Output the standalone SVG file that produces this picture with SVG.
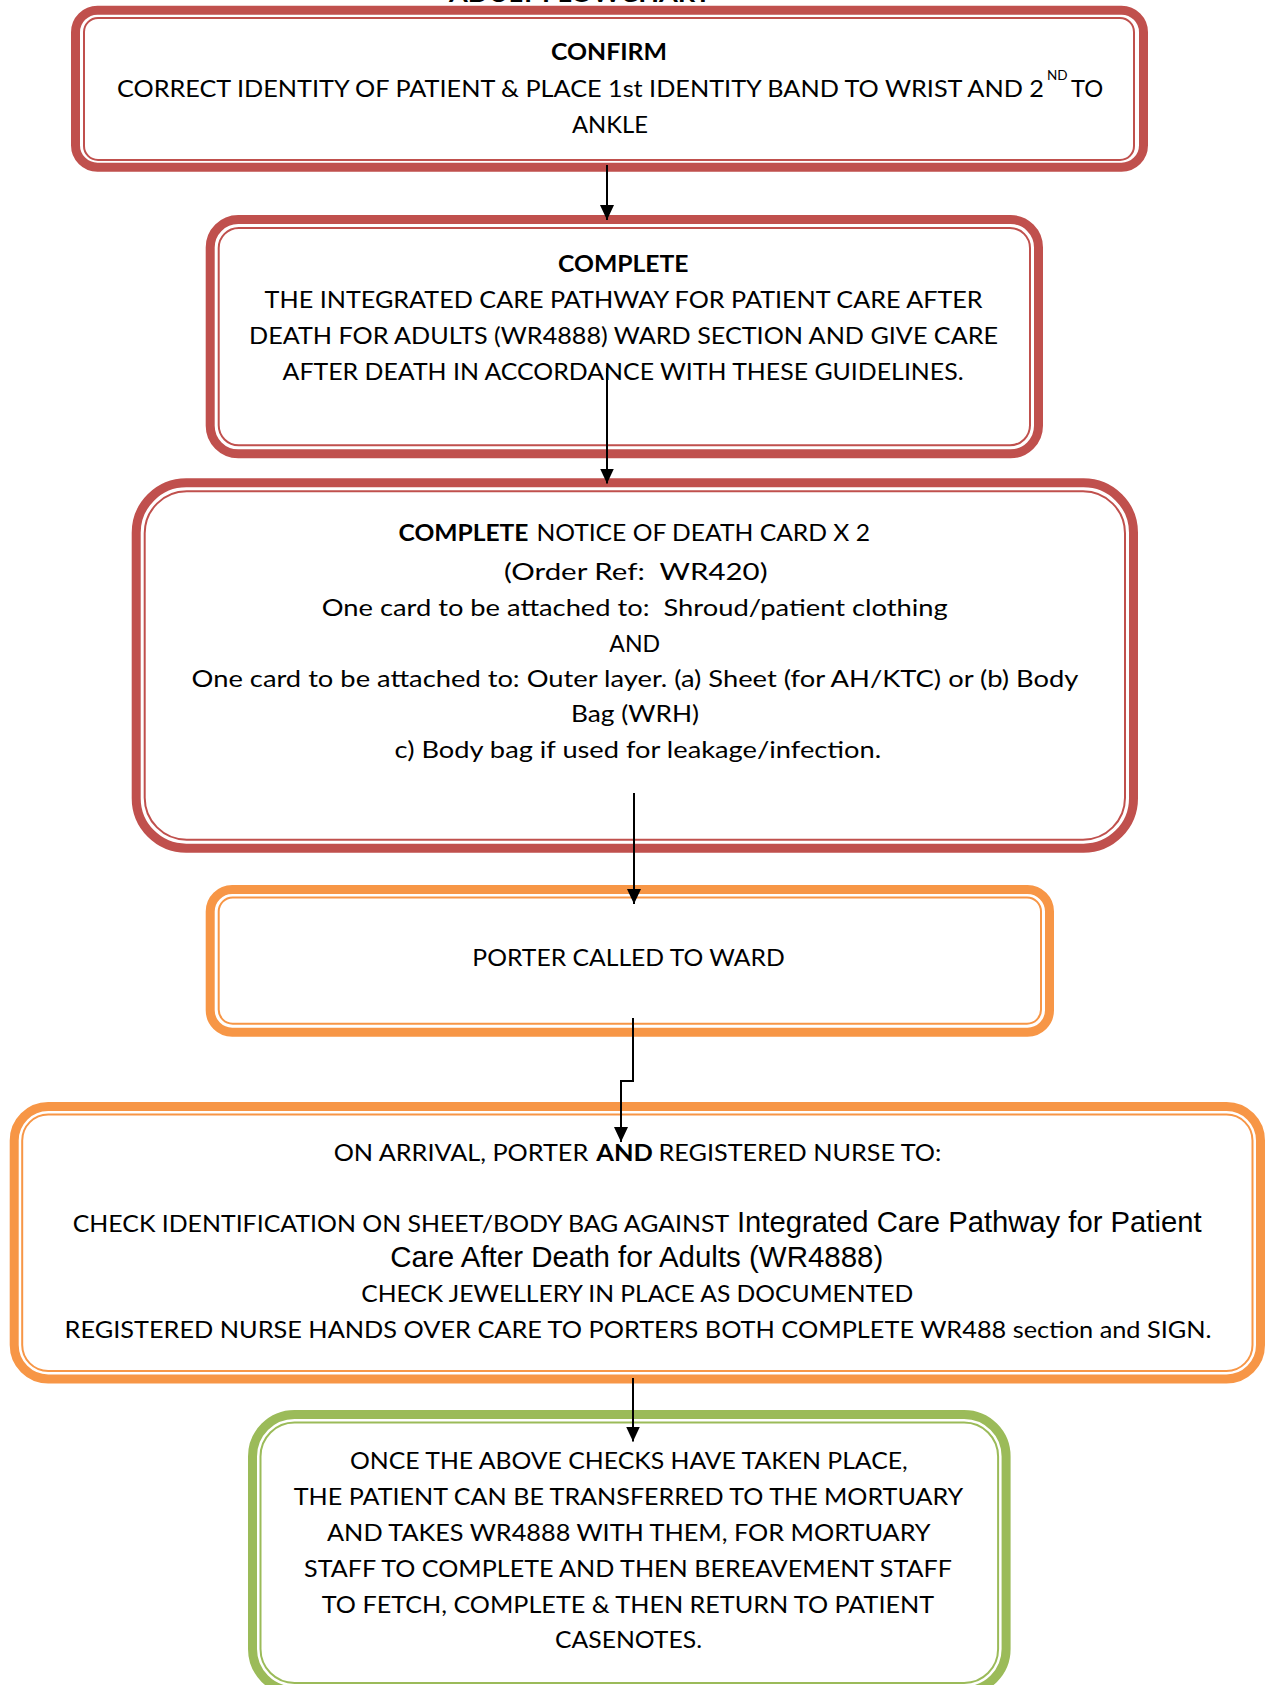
<svg xmlns="http://www.w3.org/2000/svg" width="1267" height="1685" viewBox="0 0 1267 1685">
<style>
.t{font-family:Lato,"Open Sans","Liberation Sans",sans-serif;font-size:23.7px;fill:#000}
.b{font-weight:bold}
.ar{font-family:"Liberation Sans",Arial,sans-serif;font-size:29px;fill:#000}
.red .o{fill:#fff;stroke:#C0504D;stroke-width:9}
.red .i{fill:none;stroke:#C0504D;stroke-width:2}
.org .o{fill:#fff;stroke:#F79646;stroke-width:9}
.org .i{fill:none;stroke:#F79646;stroke-width:2}
.grn .o{fill:#fff;stroke:#9BBB59;stroke-width:9}
.grn .i{fill:none;stroke:#9BBB59;stroke-width:2}
.c{fill:none;stroke:#000;stroke-width:2}
</style>
<defs>
<marker id="ah" markerUnits="userSpaceOnUse" markerWidth="16" markerHeight="16" refX="15" refY="7" orient="auto">
<path d="M0,0 L15,7 L0,14 z" fill="#000"/>
</marker>
</defs>
<rect width="1267" height="1685" fill="#fff"/>
<text class="t b" x="449" y="2" font-size="27" textLength="262" lengthAdjust="spacingAndGlyphs">ADULT FLOWCHART</text>

<g id="n1" class="red">
<rect class="o" x="75.5" y="10.2" width="1068" height="157" rx="22"/>
<rect class="i" x="84" y="18" width="1050" height="142" rx="14"/>
<text class="t b" x="551" y="60" textLength="116" lengthAdjust="spacingAndGlyphs">CONFIRM</text>
<text class="t" y="96.7"><tspan x="117" textLength="927" lengthAdjust="spacingAndGlyphs">CORRECT IDENTITY OF PATIENT &amp; PLACE 1st IDENTITY BAND TO WRIST AND 2</tspan><tspan x="1047" y="80" font-size="13.5">ND</tspan><tspan x="1071" y="96.7">TO</tspan></text>
<text class="t" x="572" y="133.3" textLength="76" lengthAdjust="spacingAndGlyphs">ANKLE</text>
</g>

<g id="n2" class="red">
<rect class="o" x="210.2" y="219.5" width="828.3" height="234.3" rx="28"/>
<rect class="i" x="218.7" y="228" width="811.3" height="217.3" rx="20"/>
<text class="t b" x="558" y="271.7" textLength="130.5" lengthAdjust="spacingAndGlyphs">COMPLETE</text>
<text class="t" x="264.6" y="308" textLength="718" lengthAdjust="spacingAndGlyphs">THE INTEGRATED CARE PATHWAY FOR PATIENT CARE AFTER</text>
<text class="t" x="249" y="344" textLength="749" lengthAdjust="spacingAndGlyphs">DEATH FOR ADULTS (WR4888) WARD SECTION AND GIVE CARE</text>
<text class="t" x="282.6" y="380" textLength="681" lengthAdjust="spacingAndGlyphs">AFTER DEATH IN ACCORDANCE WITH THESE GUIDELINES.</text>
</g>

<g id="n3" class="red">
<rect class="o" x="136.2" y="482.8" width="997.3" height="365.4" rx="50"/>
<rect class="i" x="144.7" y="491.3" width="980.3" height="348.4" rx="42"/>
<text class="t b" x="398.5" y="540.7" textLength="130" lengthAdjust="spacingAndGlyphs">COMPLETE</text>
<text class="t" x="536.4" y="540.7" textLength="333.6" lengthAdjust="spacingAndGlyphs">NOTICE OF DEATH CARD X 2</text>
<text class="t" x="504" y="580" font-size="27.9" xml:space="preserve" textLength="263.5" lengthAdjust="spacingAndGlyphs">(Order Ref:  WR420)</text>
<text class="t" x="321.7" y="616" xml:space="preserve" textLength="626" lengthAdjust="spacingAndGlyphs">One card to be attached to:  Shroud/patient clothing</text>
<text class="t" x="609.3" y="651.7" textLength="50.7" lengthAdjust="spacingAndGlyphs">AND</text>
<text class="t" x="191.6" y="687.3" textLength="886.8" lengthAdjust="spacingAndGlyphs">One card to be attached to: Outer layer. (a) Sheet (for AH/KTC) or (b) Body</text>
<text class="t" x="571" y="722.3" textLength="128" lengthAdjust="spacingAndGlyphs">Bag (WRH)</text>
<text class="t" x="394.6" y="758.3" textLength="486.6" lengthAdjust="spacingAndGlyphs">c) Body bag if used for leakage/infection.</text>
</g>

<g id="n4" class="org">
<rect class="o" x="210.2" y="889.5" width="839.3" height="142.7" rx="22"/>
<rect class="i" x="218.7" y="897.5" width="822.3" height="126.2" rx="14"/>
<text class="t" x="472.3" y="965.7" textLength="312.5" lengthAdjust="spacingAndGlyphs">PORTER CALLED TO WARD</text>
</g>

<g id="n5" class="org">
<rect class="o" x="14.2" y="1106.5" width="1246.3" height="272.5" rx="34"/>
<rect class="i" x="22.2" y="1114.5" width="1230.3" height="256.5" rx="26"/>
<text class="t" x="333.7" y="1160.7" textLength="254.5" lengthAdjust="spacingAndGlyphs">ON ARRIVAL, PORTER</text>
<text class="t b" x="596.3" y="1160.7" textLength="56.6" lengthAdjust="spacingAndGlyphs">AND</text>
<text class="t" x="658.5" y="1160.7" textLength="282.8" lengthAdjust="spacingAndGlyphs">REGISTERED NURSE TO:</text>
<text class="t" x="72.7" y="1232.3" textLength="656.5" lengthAdjust="spacingAndGlyphs">CHECK IDENTIFICATION ON SHEET/BODY BAG AGAINST</text>
<text class="ar" x="737" y="1232.3" textLength="464.5" lengthAdjust="spacingAndGlyphs">Integrated Care Pathway for Patient</text>
<text class="ar" x="390.3" y="1267.3" textLength="493" lengthAdjust="spacingAndGlyphs">Care After Death for Adults (WR4888)</text>
<text class="t" x="361.2" y="1301.7" textLength="552" lengthAdjust="spacingAndGlyphs">CHECK JEWELLERY IN PLACE AS DOCUMENTED</text>
<text class="t" x="64.6" y="1338.3" textLength="1147" lengthAdjust="spacingAndGlyphs">REGISTERED NURSE HANDS OVER CARE TO PORTERS BOTH COMPLETE WR488 section and SIGN.</text>
</g>

<g id="n6" class="grn">
<rect class="o" x="252.5" y="1414.5" width="753.6" height="276.5" rx="42"/>
<rect class="i" x="260.5" y="1422.5" width="737.6" height="260.5" rx="34"/>
<text class="t" x="350" y="1469" textLength="557.7" lengthAdjust="spacingAndGlyphs">ONCE THE ABOVE CHECKS HAVE TAKEN PLACE,</text>
<text class="t" x="293.8" y="1505" textLength="669.4" lengthAdjust="spacingAndGlyphs">THE PATIENT CAN BE TRANSFERRED TO THE MORTUARY</text>
<text class="t" x="327" y="1541" textLength="603.6" lengthAdjust="spacingAndGlyphs">AND TAKES WR4888 WITH THEM, FOR MORTUARY</text>
<text class="t" x="304" y="1577.3" textLength="648" lengthAdjust="spacingAndGlyphs">STAFF TO COMPLETE AND THEN BEREAVEMENT STAFF</text>
<text class="t" x="321.8" y="1612.7" textLength="612.3" lengthAdjust="spacingAndGlyphs">TO FETCH, COMPLETE &amp; THEN RETURN TO PATIENT</text>
<text class="t" x="555" y="1648.3" textLength="147" lengthAdjust="spacingAndGlyphs">CASENOTES.</text>
</g>

<g id="connectors">
<path class="c" d="M607,165 L607,220" marker-end="url(#ah)"/>
<path class="c" d="M607,368 L607,483.5" marker-end="url(#ah)"/>
<path class="c" d="M634,793 L634,904" marker-end="url(#ah)"/>
<path class="c" d="M633,1018 L633,1081 L621,1081 L621,1142" marker-end="url(#ah)"/>
<path class="c" d="M633,1378 L633,1441.5" marker-end="url(#ah)"/>
</g>
</svg>
